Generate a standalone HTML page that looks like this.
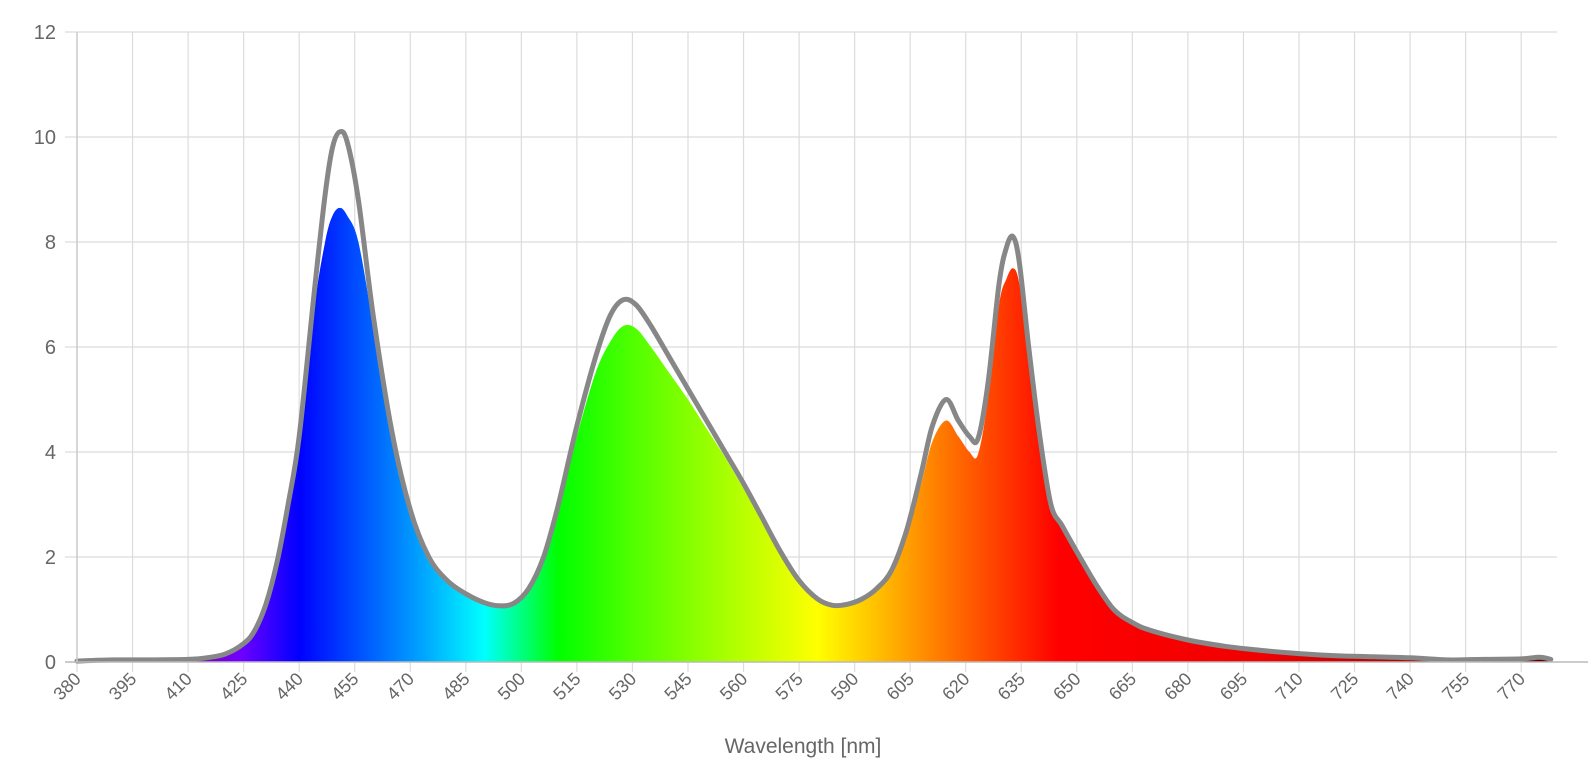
<!DOCTYPE html>
<html><head><meta charset="utf-8"><style>
html,body{margin:0;padding:0;background:#fff;}
svg{display:block;font-family:"Liberation Sans",Arial,sans-serif;}
</style></head><body>
<svg id="chart" width="1594" height="784" viewBox="0 0 1594 784" xmlns="http://www.w3.org/2000/svg">
<defs>
<linearGradient id="spec" gradientUnits="userSpaceOnUse" x1="77" y1="0" x2="1558" y2="0">
<stop offset="0" stop-color="#5a0070"/>
<stop offset="0.08" stop-color="#7a00b0"/>
<stop offset="0.11" stop-color="#7000ff"/>
<stop offset="0.15" stop-color="#0000ff"/>
<stop offset="0.19" stop-color="#0050ff"/>
<stop offset="0.235" stop-color="#00a8ff"/>
<stop offset="0.275" stop-color="#00ffff"/>
<stop offset="0.325" stop-color="#00ff00"/>
<stop offset="0.375" stop-color="#50ff00"/>
<stop offset="0.5" stop-color="#ffff00"/>
<stop offset="0.55" stop-color="#ffb000"/>
<stop offset="0.6" stop-color="#ff6000"/>
<stop offset="0.6625" stop-color="#ff0000"/>
<stop offset="0.8" stop-color="#f00000"/>
<stop offset="0.9" stop-color="#b00000"/>
<stop offset="1" stop-color="#500000"/>
</linearGradient>
</defs>
<g id="grid"></g>
<g id="marks"></g>
<g id="axes"></g>
<text x="803" y="753" font-size="21" fill="#666" text-anchor="middle">Wavelength [nm]</text>
</svg>
<script>
const wavelengths=[380,390,400,410,415,420,425,428,431,434,437,440,444,447,449,451,453,456,460,465,470,475,480,485,490,494,498,502,506,510,515,520,524,527.5,531,535,540,545,550,555,560,565,570,575,580,584,588,592,596,600,604,608,611,614.7,618,621,623.3,626,629,631,632.8,634.5,637,640,643,646,650,655,660,665,670,680,690,700,710,720,730,740,750,760,770,775,778];
const lineValues=[0.02,0.04,0.04,0.05,0.08,0.15,0.35,0.6,1.1,1.9,3.0,4.3,7.0,8.9,9.8,10.1,9.9,8.8,6.6,4.4,2.9,2.0,1.55,1.3,1.13,1.07,1.12,1.4,2.0,3.0,4.5,5.8,6.6,6.9,6.8,6.4,5.8,5.2,4.6,4.0,3.4,2.75,2.1,1.55,1.2,1.08,1.1,1.2,1.4,1.75,2.5,3.6,4.5,5.0,4.6,4.3,4.25,5.3,7.2,7.9,8.1,7.6,6.0,4.3,3.0,2.6,2.1,1.5,1.0,0.75,0.6,0.42,0.3,0.22,0.16,0.12,0.1,0.08,0.04,0.05,0.06,0.09,0.05];
const fillValues=[0.02,0.03,0.03,0.04,0.07,0.13,0.32,0.55,1.05,1.85,2.9,4.2,6.7,8.0,8.5,8.65,8.5,8.0,6.4,4.3,2.85,1.95,1.5,1.27,1.1,1.05,1.1,1.37,1.95,2.9,4.3,5.5,6.1,6.4,6.35,6.0,5.5,5.0,4.45,3.9,3.3,2.7,2.05,1.5,1.17,1.05,1.07,1.17,1.37,1.7,2.4,3.4,4.2,4.6,4.3,4.0,3.95,5.0,6.8,7.3,7.5,7.2,5.9,4.2,2.95,2.55,2.05,1.45,0.97,0.72,0.58,0.4,0.28,0.2,0.15,0.11,0.09,0.07,0.03,0.04,0.05,0.08,0.04];
const yTicks=[0,2,4,6,8,10,12];
const xTicks=[380,395,410,425,440,455,470,485,500,515,530,545,560,575,590,605,620,635,650,665,680,695,710,725,740,755,770];
const NS="http://www.w3.org/2000/svg";
function xs(nm){return 77+(nm-380)*3.703;}
function ys(v){return 662-v*52.5;}
function mk(tag,attrs,parent){const e=document.createElementNS(NS,tag);for(const k in attrs)e.setAttribute(k,attrs[k]);parent.appendChild(e);return e;}
function smooth(p){
  let d='';
  for(let i=0;i<p.length-1;i++){
    const p0=p[Math.max(0,i-1)],p1=p[i],p2=p[i+1],p3=p[Math.min(p.length-1,i+2)];
    const c1x=p1[0]+(p2[0]-p0[0])/6,c1y=p1[1]+(p2[1]-p0[1])/6;
    const c2x=p2[0]-(p3[0]-p1[0])/6,c2y=p2[1]-(p3[1]-p1[1])/6;
    d+=' C'+c1x.toFixed(1)+','+c1y.toFixed(1)+' '+c2x.toFixed(1)+','+c2y.toFixed(1)+' '+p2[0].toFixed(1)+','+p2[1].toFixed(1);
  }
  return d;
}
const grid=document.getElementById('grid'),marks=document.getElementById('marks'),axes=document.getElementById('axes');
yTicks.forEach(v=>{
  const l=mk('line',{x1:65,x2:1557,y1:ys(v),y2:ys(v),stroke:'#dcdcdc','stroke-width':1.2},grid);
  
  
  const t=mk('text',{x:56,y:ys(v)+7,'font-size':20,fill:'#666','text-anchor':'end'},axes);
  t.textContent=v;
  
  
});
xTicks.forEach(nm=>{
  const x=xs(nm);
  const l=mk('line',{x1:x,x2:x,y1:32,y2:672,stroke:'#dcdcdc','stroke-width':1.2},grid);
  
  
  const t=mk('text',{x:x+5,y:680,'font-size':18,fill:'#666','text-anchor':'end',transform:'rotate(-45 '+(x+5)+' 680)'},axes);
  t.textContent=nm;
  
  
});
const axl=mk('line',{x1:65,x2:1588,y1:662,y2:662,stroke:'#bbb','stroke-width':1.5},axes);


const ayl=mk('line',{x1:77,x2:77,y1:32,y2:662,stroke:'#ccc','stroke-width':1.5},axes);


const fp=wavelengths.map((w,i)=>[xs(w),ys(fillValues[i])]);
let d='M'+xs(wavelengths[0])+','+ys(0)+' L'+fp[0][0].toFixed(1)+','+fp[0][1].toFixed(1)+smooth(fp);
d+=' L'+xs(wavelengths[wavelengths.length-1])+','+ys(0)+' Z';
const area=mk('path',{d:d,fill:'url(#spec)'},marks);


const lp=wavelengths.map((w,i)=>[xs(w),ys(lineValues[i])]);
const pl=mk('path',{d:'M'+lp[0][0].toFixed(1)+','+lp[0][1].toFixed(1)+smooth(lp),fill:'none',stroke:'#878787','stroke-width':5,'stroke-linejoin':'round','stroke-linecap':'round'},marks);


</script>
</body></html>
